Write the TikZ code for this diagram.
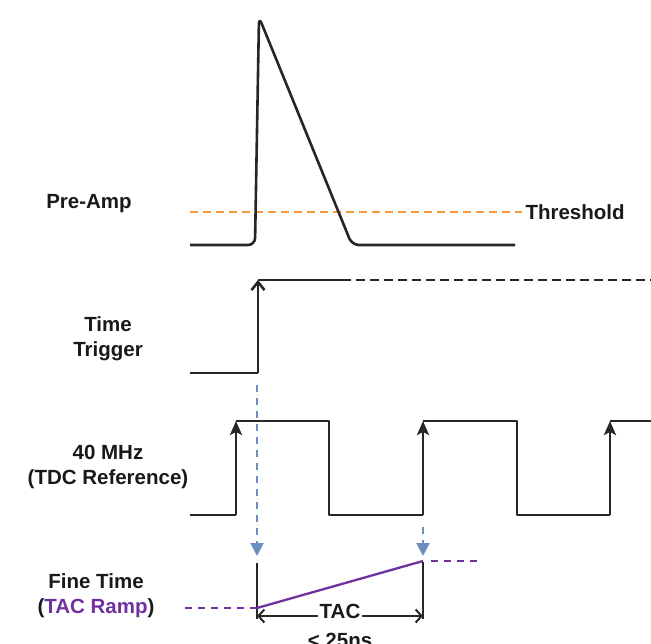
\documentclass[tikz,border=0pt]{standalone}
\usepackage{fontspec}
\setmainfont{Liberation Sans}
\usetikzlibrary{arrows.meta}

\begin{document}
\begin{tikzpicture}[x=1pt,y=-1pt,line join=round,
    lbl/.style={font=\fontsize{20.5}{25}\selectfont\bfseries,align=center,text=black!90},
    wave/.style={line width=2.6pt,black!85},
    blu/.style={line width=2pt,bblue,dash pattern=on 7pt off 6pt,-{Triangle[length=13pt,width=13pt]}}]
        %colores
        \definecolor{bblue}{HTML}{6C8EBF}
        \definecolor{naranja}{HTML}{F79A3E}
        \definecolor{morado}{HTML}{7030A0}

        \useasboundingbox (0,0) rectangle (651,644);

        % Etiquetas
        \node[lbl] (preamp) at (89,204) {Pre-Amp};
        \node[lbl,anchor=west] (thr) at (522,212) {Threshold};
        \node[lbl] (trig) at (108,339) {Time\\Trigger};
        \node[lbl] (clk) at (108,467) {40 MHz\\(TDC Reference)};
        \node[lbl] (fine) at (96,596) {Fine Time\\(\textcolor{morado}{TAC Ramp})};

        % Pre-Amp y umbral
        \draw[naranja,line width=2.3pt,dash pattern=on 8pt off 5pt] (190,212) -- (thr.west);
        \draw[wave,rounded corners=7pt] (190,245) -- (255,245) -- (259,17) -- (352,245) -- (515,245);

        % Trigger
        \draw[wave] (190,373) -- (258,373);
        \draw[wave,-{Straight Barb[length=8pt,width=13pt]}] (258,373) -- (258,280);
        \draw[wave] (258,280) -- (342,280);
        \draw[wave,dash pattern=on 9pt off 5pt] (342,280) -- (651,280);

        % Reloj 40 MHz
        \draw[wave] (190,515) -- (236,515) (236,421) -- (329,421) -- (329,515) -- (423,515)
            (423,421) -- (517,421) -- (517,515) -- (610,515) (610,421) -- (651,421);
        \foreach \x in {236,423,610}
        \draw[wave,-{Stealth[length=14pt,width=12pt,inset=3pt]}] (\x,515) -- (\x,421);

        % Flechas azules
        \coordinate (trigedge) at (257,385);
        \coordinate (start) at (257,556);
        \coordinate (clkedge) at (423,527);
        \coordinate (stop) at (423,556);
        \draw[blu] (trigedge) -- (start);
        \draw[blu] (clkedge) -- (stop);

        % Rampa TAC
        \coordinate (rampA) at (257,608);
        \coordinate (rampB) at (423,561);
        \draw[wave] (257,563) -- (257,619);
        \draw[wave] (423,562) -- (423,619);
        \draw[morado,line width=2.3pt,dash pattern=on 7pt off 6pt] (185,608) -- (rampA);
        \draw[morado,line width=2.3pt,dash pattern=on 7pt off 6pt] (431,561) -- (483,561);
        \draw[morado,line width=2.3pt] (rampA) -- (rampB);
        \draw[wave,line width=2pt,{Straight Barb[length=6pt,width=13pt]}-{Straight Barb[length=6pt,width=13pt]}] (257,616) -- (423,616);
        \node[lbl,fill=white,inner sep=1.5pt] (tac) at (340,611) {TAC};
        \node[lbl,anchor=base] (lim) at (340,647) {< 25ns};
    \end{tikzpicture}
\end{document}
